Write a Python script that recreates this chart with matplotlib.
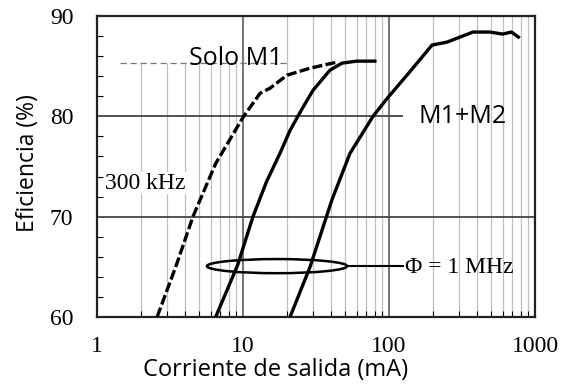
import numpy as np
import matplotlib
matplotlib.use("Agg")
import matplotlib.pyplot as plt
from matplotlib.patches import Ellipse

# Efficiency vs. output current
x_m1_300k = [2.58, 3.5, 4.54, 6.5, 10.0, 13.1, 15.3, 20.0, 28.8, 44.0]
y_m1_300k = [60.0, 65.2, 70.0, 75.3, 79.9, 82.3, 82.8, 84.1, 84.8, 85.4]

x_m1_1m = [6.5, 9.2, 11.7, 14.5, 17.9, 21.0, 25.5, 30.2, 39.4, 47.6, 60.0, 80.0]
y_m1_1m = [60.0, 65.2, 70.0, 73.5, 76.3, 78.6, 80.8, 82.6, 84.6, 85.3, 85.5, 85.5]

x_m1m2 = [21.0, 28.8, 40.7, 54.0, 77.7, 98.6, 140.0, 197.0, 250.0, 376.0, 490.0, 600.0, 690.0, 770.0]
y_m1m2 = [60.0, 65.0, 71.7, 76.3, 80.0, 81.9, 84.5, 87.1, 87.4, 88.4, 88.4, 88.2, 88.4, 87.9]

solo_m1_level = 85.3
x_ticks = [1, 10, 100, 1000]
x_ticklabels = ["1", "10", "100", "1000"]
y_ticks = [60, 70, 80, 90]
y_ticklabels = ["60", "70", "80", "90"]

SERIF = "Liberation Serif"
SANS = "Open Sans"

fig = plt.figure(figsize=(5.61, 3.86), dpi=100)
ax = fig.add_axes([97 / 561, 1 - 317 / 386, 438 / 561, 301 / 386])
ax.set_xscale("log")
ax.set_xlim(1, 1000)
ax.set_ylim(60, 90)

# log grid: minor lines light, decade lines darker
for dec in [1, 10, 100]:
    for k in range(2, 10):
        v = dec * k
        top = solo_m1_level if dec == 1 else 90
        ax.vlines(v, 60, top, colors="#c0c0c0", lw=0.9, zorder=1)
for v in [10, 100]:
    ax.vlines(v, 60, 90, colors="#6a6a6a", lw=1.3, zorder=1)
ax.hlines(70, 1, 1000, colors="#444444", lw=1.3, zorder=1)
ax.hlines(80, 1, 125, colors="#444444", lw=1.3, zorder=1)
ax.hlines(solo_m1_level, 1.44, 21, colors="#777777", lw=0.9,
          linestyles=(0, (5, 3)), zorder=1)

lw = 2.4
ax.plot(x_m1_300k, y_m1_300k, color="black", lw=lw, ls=(0, (3, 1)),
        solid_capstyle="butt", zorder=3)
ax.plot(x_m1_1m, y_m1_1m, color="black", lw=lw, zorder=3)
ax.plot(x_m1m2, y_m1m2, color="black", lw=lw, zorder=3)

# 1 MHz marker ellipse and leader
ell = Ellipse((0.411, 0.169), 0.320, 0.047, transform=ax.transAxes,
              fill=False, ec="black", lw=1.8, zorder=4)
ax.add_patch(ell)
ax.plot([0.571, 0.699], [0.169, 0.169], transform=ax.transAxes,
        color="black", lw=1.5, zorder=4)

ax.text(0.703, 0.163, "\u03a6 = 1 MHz", transform=ax.transAxes,
        family=SERIF, fontsize=17, va="center", ha="left")
ax.text(0.018, 0.445, "300 kHz", transform=ax.transAxes,
        family=SERIF, fontsize=17, va="center", ha="left",
        bbox=dict(fc="white", ec="none", pad=0.5), zorder=2)
ax.text(0.21, 0.86, "Solo M1", transform=ax.transAxes,
        family=SANS, fontsize=18, va="center", ha="left")
ax.text(0.733, 0.665, "M1+M2", transform=ax.transAxes,
        family=SANS, fontsize=18, va="center", ha="left")

ax.set_xticks(x_ticks)
ax.set_xticklabels(x_ticklabels, family=SERIF, fontsize=17)
ax.set_yticks(y_ticks)
ax.set_yticklabels(y_ticklabels, family=SERIF, fontsize=17)
ax.set_yticks(np.arange(60, 90, 2), minor=True)
ax.tick_params(axis="both", which="major", direction="in", length=0)
ax.tick_params(axis="y", which="major", pad=17)
ax.tick_params(axis="x", which="major", pad=14)
ax.tick_params(axis="x", which="minor", direction="in", length=4, width=0.8,
               labelbottom=False)
ax.tick_params(axis="y", which="minor", direction="in", length=4, width=0.8)

for s in ax.spines.values():
    s.set_linewidth(1.6)
    s.set_color("#222222")

fig.text(276 / 561, 1 - 370 / 386, "Corriente de salida (mA)",
         family=SANS, fontsize=17, ha="center", va="center")
fig.text(28 / 561, 1 - 163 / 386, "Eficiencia (%)", rotation=90,
         family=SANS, fontsize=16.5, ha="center", va="center")

fig.savefig("out.png", dpi=100)
